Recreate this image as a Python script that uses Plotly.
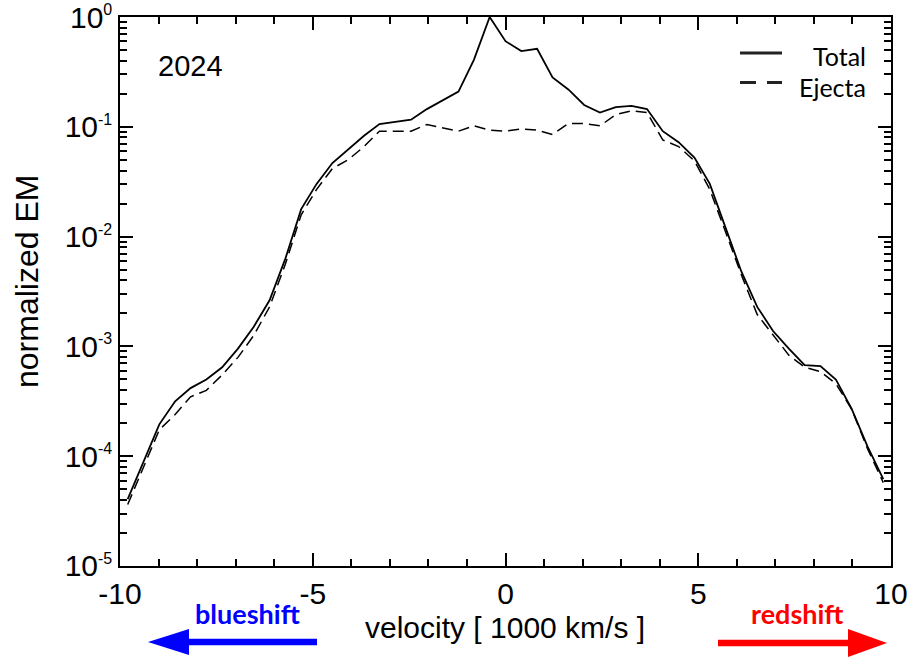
import plotly.graph_objects as go

# velocity grid (1000 km/s)
velocity = [-9.80, -9.39, -8.98, -8.57, -8.17, -7.76, -7.35, -6.94, -6.53, -6.12,
            -5.71, -5.30, -4.90, -4.49, -4.08, -3.67, -3.27, -2.86, -2.45, -2.04,
            -1.63, -1.22, -0.82, -0.41, 0.00, 0.41, 0.82, 1.22, 1.63, 2.04,
            2.45, 2.86, 3.27, 3.67, 4.08, 4.49, 4.90, 5.30, 5.71, 6.12,
            6.53, 6.94, 7.35, 7.76, 8.17, 8.57, 8.98, 9.39, 9.80]

em_total = [4.07e-5, 8.9e-5, 1.95e-4, 3.16e-4, 4.17e-4, 5.0e-4, 6.46e-4, 9.55e-4, 1.51e-3, 2.63e-3,
            6.3e-3, 1.78e-2, 3.02e-2, 4.68e-2, 6.17e-2, 8.3e-2, 0.106, 0.111, 0.116, 0.145,
            0.174, 0.209, 0.407, 1.0, 0.603, 0.49, 0.513, 0.282, 0.219, 0.158,
            0.135, 0.151, 0.155, 0.145, 0.0912, 0.0724, 0.0525, 0.0302, 0.0120, 4.79e-3,
            2.29e-3, 1.38e-3, 9.55e-4, 6.76e-4, 6.61e-4, 5.0e-4, 2.69e-4, 1.23e-4, 6.17e-5]

em_ejecta = [3.63e-5, 7.94e-5, 1.74e-4, 2.40e-4, 3.47e-4, 3.98e-4, 5.5e-4, 7.94e-4, 1.26e-3, 2.29e-3,
             5.62e-3, 1.58e-2, 2.69e-2, 4.17e-2, 5.01e-2, 6.61e-2, 0.0912, 0.0912, 0.0912, 0.105,
             0.0977, 0.0912, 0.102, 0.0933, 0.0912, 0.0955, 0.0933, 0.0851, 0.107, 0.107,
             0.102, 0.129, 0.140, 0.135, 0.0759, 0.0661, 0.049, 0.0269, 0.011, 4.47e-3,
             1.95e-3, 1.26e-3, 8.32e-4, 6.46e-4, 5.89e-4, 4.57e-4, 2.69e-4, 1.17e-4, 5.75e-5]

x_tickvals = [-10, -5, 0, 5, 10]
x_ticktext = ["-10", "-5", "0", "5", "10"]
y_tickvals = [1e0, 1e-1, 1e-2, 1e-3, 1e-4, 1e-5]
y_exponents = ["0", "-1", "-2", "-3", "-4", "-5"]
y_ticktext = [f'10<sup><span style="font-size:16px">{e}</span></sup>' for e in y_exponents]
y_minor = [m * 10.0 ** e for e in range(-5, 0) for m in range(2, 10)]

W, H = 912, 657
ML, MR, MT, MB = 120, 21, 17, 91
PW, PH = W - ML - MR, H - MT - MB


def px(x):
    return (x - ML) / PW


def py(y):
    return (H - MB - y) / PH


FONT = "Liberation Sans, Arial, Helvetica, sans-serif"
LFONT = "Lato, Open Sans, sans-serif"

fig = go.Figure()
fig.add_trace(go.Scatter(x=velocity, y=em_total, mode="lines", name="Total",
                         line=dict(color="black", width=1.8), showlegend=False))
fig.add_trace(go.Scatter(x=velocity, y=em_ejecta, mode="lines", name="Ejecta",
                         line=dict(color="black", width=1.5, dash="11px,6px"), showlegend=False))

axis_common = dict(showline=True, linecolor="black", linewidth=1.5, mirror="ticks",
                   ticks="inside", tickcolor="black", tickwidth=1.5, showgrid=False,
                   zeroline=False, ticklabeloverflow="allow", automargin=False,
                   tickfont=dict(family=FONT, size=30, color="black"))

fig.update_xaxes(range=[-10, 10], tickmode="array", tickvals=x_tickvals, ticktext=x_ticktext,
                 ticklen=13, minor=dict(ticks="inside", ticklen=7, dtick=1, tick0=0,
                                        tickcolor="black", tickwidth=1.5),
                 **axis_common)
fig.update_yaxes(type="log", range=[-5.0002, 0.0002], tickmode="array", tickvals=y_tickvals,
                 ticktext=y_ticktext, ticklen=13,
                 minor=dict(ticks="inside", ticklen=7, tickmode="array", tickvals=y_minor,
                            tickcolor="black", tickwidth=1.5),
                 **axis_common)

annotations = [
    dict(text="2024", x=px(190), y=py(66), font=dict(family=FONT, size=29, color="black")),
    dict(text="Total", x=px(868), y=py(56), xanchor="right",
         font=dict(family=LFONT, size=25, color="black")),
    dict(text="Ejecta", x=px(868), y=py(87), xanchor="right",
         font=dict(family=LFONT, size=25, color="black")),
    dict(text="normalized EM", x=px(27), y=py(282), textangle=-90,
         font=dict(family=FONT, size=32, color="black")),
    dict(text="velocity [ 1000 km/s ]", x=px(505), y=py(627),
         font=dict(family=FONT, size=30, color="black")),
    dict(text="<b>blueshift</b>", x=px(247), y=py(613),
         font=dict(family=LFONT, size=27, color="#0000ff")),
    dict(text="<b>redshift</b>", x=px(797), y=py(613),
         font=dict(family=LFONT, size=27, color="#ff0000")),
]
for a in annotations:
    a.setdefault("xanchor", "center")
    a.update(xref="paper", yref="paper", yanchor="middle", showarrow=False)

shapes = [
    # legend samples
    dict(type="line", x0=px(740), x1=px(782), y0=py(53), y1=py(53),
         line=dict(color="#222", width=3)),
    dict(type="line", x0=px(740), x1=px(782), y0=py(82.5), y1=py(82.5),
         line=dict(color="#222", width=3, dash="16px,11px")),
    # blueshift arrow
    dict(type="line", x0=px(186), x1=px(317), y0=py(642), y1=py(642),
         line=dict(color="#0000ff", width=6.5)),
    dict(type="path", path=f"M {px(148)},{py(642)} L {px(189)},{py(629)} L {px(189)},{py(655)} Z",
         fillcolor="#0000ff", line=dict(width=0)),
    # redshift arrow
    dict(type="line", x0=px(718), x1=px(850), y0=py(643), y1=py(643),
         line=dict(color="#ff0000", width=6.5)),
    dict(type="path", path=f"M {px(887)},{py(643)} L {px(848)},{py(629)} L {px(848)},{py(657)} Z",
         fillcolor="#ff0000", line=dict(width=0)),
]
for s in shapes:
    s.update(xref="paper", yref="paper")

fig.update_layout(width=W, height=H, margin=dict(l=ML, r=MR, t=MT, b=MB, autoexpand=False),
                  paper_bgcolor="white", plot_bgcolor="white",
                  annotations=annotations, shapes=shapes, showlegend=False)

fig.write_html("out.html")
